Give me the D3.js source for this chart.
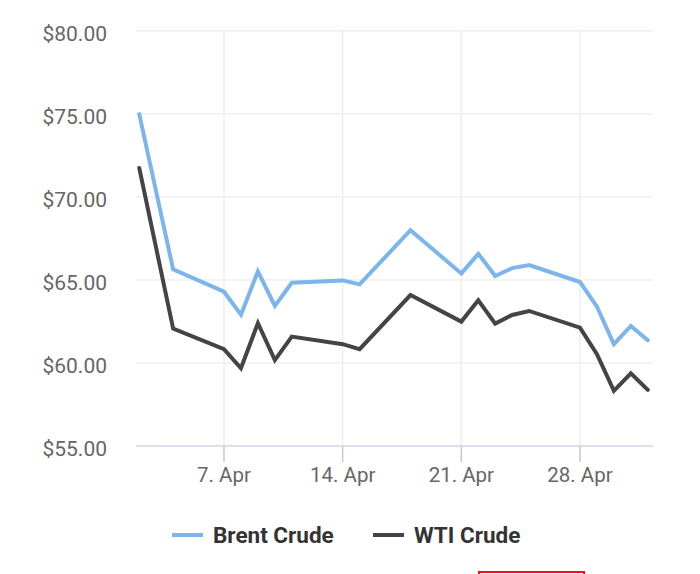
<!DOCTYPE html>
<html>
<head>
<meta charset="utf-8">
<script src="https://cdn.jsdelivr.net/npm/d3@7"></script>
<style>
  html, body { margin: 0; padding: 0; background: #fff; }
  svg { display: block; font-family: Roboto, "Noto Sans", sans-serif; }
</style>
</head>
<body>
<svg id="chart" width="700" height="574"></svg>
<script>
// ---- data ----
const dates = ["2025-04-02","2025-04-04","2025-04-07","2025-04-08","2025-04-09","2025-04-10","2025-04-11",
               "2025-04-14","2025-04-15","2025-04-18","2025-04-21","2025-04-22","2025-04-23","2025-04-24",
               "2025-04-25","2025-04-28","2025-04-29","2025-04-30","2025-05-01","2025-05-02"];
const brent = [74.98,65.63,64.29,62.91,65.51,63.43,64.83,64.97,64.73,67.99,65.39,66.57,65.23,65.71,65.89,64.87,63.39,61.13,62.23,61.37];
const wti   = [71.74,62.07,60.83,59.68,62.39,60.17,61.59,61.13,60.83,64.09,62.49,63.77,62.37,62.89,63.13,62.13,60.53,58.32,59.37,58.38];
const yTicks = [55,60,65,70,75,80];
const xTicks = ["2025-04-07","2025-04-14","2025-04-21","2025-04-28"];
const seriesNames = ["Brent Crude","WTI Crude"];
const seriesColors = ["#7cb5ec","#434348"];

const parse = d3.utcParse("%Y-%m-%d");
const svg = d3.select("#chart");

const pLeft = 136, pRight = 653, pTop = 30.75, pBottom = 446;
const x = d3.scaleUtc()
  .domain([new Date(Date.UTC(2025,3,1,19,25)), new Date(Date.UTC(2025,4,2,7,22))])
  .range([pLeft, pRight]);
const y = d3.scaleLinear().domain([55, 80]).range([pBottom, pTop]);

// horizontal grid
svg.append("g").selectAll("line").data(yTicks.filter(v => v !== 55)).join("line")
  .attr("x1", pLeft).attr("x2", pRight)
  .attr("y1", d => y(d)).attr("y2", d => y(d))
  .attr("stroke", "#efefef").attr("stroke-width", 1.5);

// vertical grid
svg.append("g").selectAll("line").data(xTicks).join("line")
  .attr("x1", d => x(parse(d))).attr("x2", d => x(parse(d)))
  .attr("y1", pTop).attr("y2", pBottom)
  .attr("stroke", "#efefef").attr("stroke-width", 1.5);

// y labels
svg.append("g").selectAll("text").data(yTicks).join("text")
  .attr("x", 107).attr("y", d => y(d) + 10)
  .attr("text-anchor", "end")
  .attr("font-size", 21).attr("fill", "#666666")
  .text(d => "$" + d3.format(".2f")(d));

// x axis line
svg.append("line").attr("x1", pLeft).attr("x2", pRight)
  .attr("y1", pBottom).attr("y2", pBottom)
  .attr("stroke", "#ccd6eb").attr("stroke-width", 1.5);

// x ticks
const xt = svg.append("g").selectAll("g").data(xTicks).join("g")
  .attr("transform", d => `translate(${x(parse(d))},0)`);
xt.append("line").attr("y1", pBottom).attr("y2", pBottom + 16)
  .attr("stroke", "#c4c8d0").attr("stroke-width", 1.5);
xt.append("text").attr("y", 481.5).attr("text-anchor", "middle")
  .attr("font-size", 20.5).attr("fill", "#666666")
  .text(d => d3.utcFormat("%-d. %b")(parse(d)));

// lines
const line = d3.line().x(d => x(d.date)).y(d => y(d.v));
[brent, wti].forEach((vals, i) => {
  const pts = dates.map((d, j) => ({date: parse(d), v: vals[j]}));
  svg.append("path").datum(pts)
    .attr("d", line)
    .attr("fill", "none")
    .attr("stroke", seriesColors[i])
    .attr("stroke-width", 4)
    .attr("stroke-linejoin", "miter")
    .attr("stroke-linecap", "round");
});

// legend
const legendX = [172, 373];
seriesNames.forEach((n, i) => {
  const g = svg.append("g").attr("transform", `translate(${legendX[i]},535)`);
  g.append("line").attr("x1", 0).attr("x2", 31).attr("y1", 0).attr("y2", 0)
    .attr("stroke", seriesColors[i]).attr("stroke-width", 4);
  g.append("text").attr("x", 41).attr("y", 8)
    .attr("font-size", 22.5).attr("font-weight", "bold").attr("fill", "#333333")
    .text(n);
});

// red box edge at bottom
svg.append("rect").attr("x", 479).attr("y", 572).attr("width", 105).attr("height", 10)
  .attr("fill", "none").attr("stroke", "#e8141e").attr("stroke-width", 2);
</script>
</body>
</html>
